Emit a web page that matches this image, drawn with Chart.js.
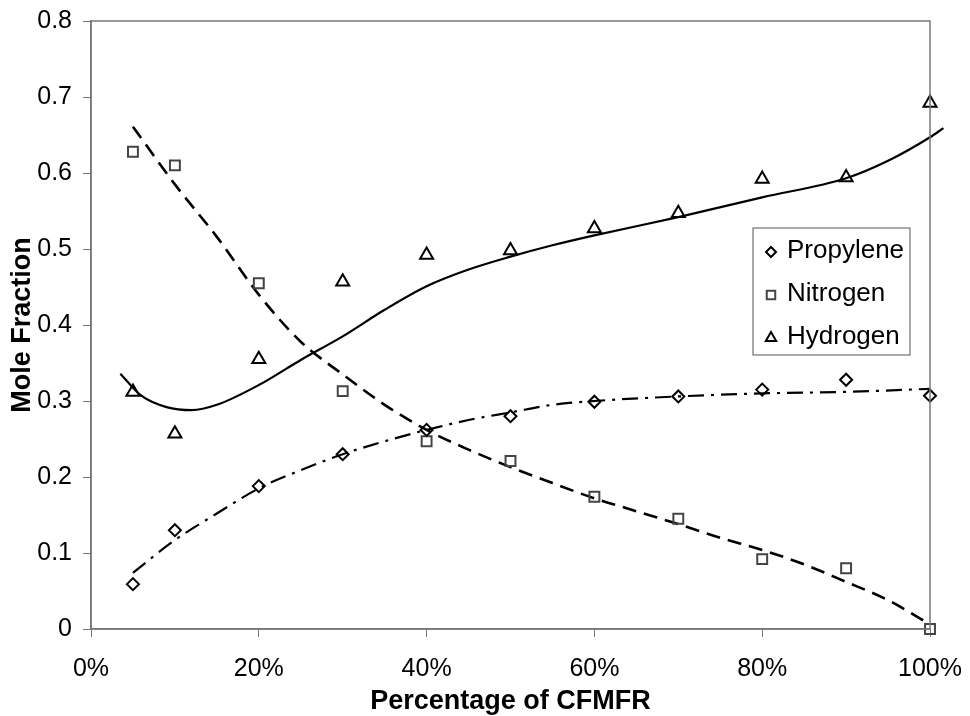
<!DOCTYPE html>
<html lang="en">
<head>
    <meta charset="UTF-8">
    <title>Mole Fraction vs Percentage of CFMFR</title>
    <script src="https://cdn.jsdelivr.net/npm/chart.js"></script>
    <style>
        body { margin: 0; background: #fff; }
        #wrap { width: 970px; height: 716px; }
    </style>
</head>
<body>
    <div id="wrap">
        <canvas id="moleChart" width="970" height="716"></canvas>
    </div>
    <script>
        // measured points (fraction of CFMFR)
        const cfmfr = [0.05, 0.1, 0.2, 0.3, 0.4, 0.5, 0.6, 0.7, 0.8, 0.9, 1.0];
        const propylene = [0.059, 0.130, 0.188, 0.230, 0.262, 0.280, 0.299, 0.306, 0.315, 0.328, 0.307];
        const nitrogen = [0.628, 0.610, 0.455, 0.313, 0.247, 0.221, 0.174, 0.145, 0.092, 0.080, 0.0];
        const hydrogen = [0.312, 0.257, 0.355, 0.457, 0.492, 0.498, 0.527, 0.547, 0.592, 0.594, 0.692];

        // trend curves
        const propyleneFitX = [0.05, 0.1, 0.15, 0.2, 0.25, 0.3, 0.35, 0.4, 0.45, 0.5, 0.55, 0.6, 0.7, 0.8, 0.9, 1.0];
        const propyleneFit = [0.074, 0.117, 0.152, 0.185, 0.209, 0.230, 0.247, 0.262, 0.275, 0.285, 0.295, 0.300, 0.306, 0.310, 0.312, 0.316];
        const nitrogenFitX = [0.05, 0.1, 0.15, 0.2, 0.25, 0.3, 0.35, 0.4, 0.45, 0.5, 0.55, 0.6, 0.65, 0.7, 0.75, 0.8, 0.85, 0.9, 0.95, 1.0];
        const nitrogenFit = [0.661, 0.585, 0.516, 0.440, 0.378, 0.335, 0.295, 0.262, 0.236, 0.213, 0.192, 0.172, 0.155, 0.138, 0.120, 0.104, 0.085, 0.062, 0.038, 0.006];
        const hydrogenFitX = [0.035, 0.06, 0.09, 0.12, 0.15, 0.2, 0.25, 0.3, 0.35, 0.4, 0.45, 0.5, 0.55, 0.6, 0.7, 0.8, 0.9, 0.95, 1.0, 1.016];
        const hydrogenFit = [0.336, 0.307, 0.292, 0.288, 0.295, 0.321, 0.354, 0.385, 0.420, 0.451, 0.473, 0.490, 0.505, 0.518, 0.542, 0.568, 0.593, 0.616, 0.647, 0.659];

        const yTicks = [0, 0.1, 0.2, 0.3, 0.4, 0.5, 0.6, 0.7, 0.8];
        const xTicks = [0, 0.2, 0.4, 0.6, 0.8, 1.0];

        const legendItems = [
            { label: "Propylene", style: "rectRot", radius: 5, color: "#000" },
            { label: "Nitrogen", style: "rect", radius: 6, color: "#444" },
            { label: "Hydrogen", style: "triangle", radius: 6, color: "#000" }
        ];

        const toXY = (xs, ys) => xs.map((x, i) => ({ x: x, y: ys[i] }));

        const font = "'Liberation Sans', Arial, sans-serif";

        // plot frame + legend box inside the plot area
        const framePlugin = {
            id: "frame",
            afterDraw(chart) {
                const ctx = chart.ctx;
                const a = chart.chartArea;
                ctx.save();
                ctx.strokeStyle = "#777";
                ctx.lineWidth = 1.5;
                ctx.strokeRect(a.left, a.top, a.right - a.left, a.bottom - a.top);

                const bx = 753, by = 228, bw = 157, bh = 127;
                ctx.fillStyle = "#fff";
                ctx.fillRect(bx, by, bw, bh);
                ctx.strokeStyle = "#555";
                ctx.lineWidth = 1;
                ctx.strokeRect(bx, by, bw, bh);

                ctx.font = "26px " + font;
                ctx.textBaseline = "middle";
                legendItems.forEach((it, i) => {
                    const cy = by + 23 + i * 43;
                    ctx.strokeStyle = it.color;
                    ctx.fillStyle = "#fff";
                    ctx.lineWidth = 2;
                    Chart.helpers.drawPoint(ctx, { pointStyle: it.style, radius: it.radius, borderWidth: 2 }, 771, cy + 1);
                    ctx.fillStyle = "#000";
                    ctx.fillText(it.label, 787, cy);
                });
                ctx.restore();
            }
        };

        const ctx = document.getElementById("moleChart").getContext("2d");
        new Chart(ctx, {
            type: "scatter",
            data: {
                datasets: [
                    {
                        label: "Propylene",
                        data: toXY(cfmfr, propylene),
                        pointStyle: "rectRot",
                        pointRadius: 6,
                        borderColor: "#000",
                        backgroundColor: "rgba(0,0,0,0)",
                        borderWidth: 2,
                        clip: false
                    },
                    {
                        label: "Nitrogen",
                        data: toXY(cfmfr, nitrogen),
                        pointStyle: "rect",
                        pointRadius: 7,
                        borderColor: "#444",
                        backgroundColor: "rgba(0,0,0,0)",
                        borderWidth: 2,
                        clip: false
                    },
                    {
                        label: "Hydrogen",
                        data: toXY(cfmfr, hydrogen),
                        pointStyle: "triangle",
                        pointRadius: 7.5,
                        borderColor: "#000",
                        backgroundColor: "rgba(0,0,0,0)",
                        borderWidth: 2,
                        clip: false
                    },
                    {
                        label: "Propylene trend",
                        type: "line",
                        data: toXY(propyleneFitX, propyleneFit),
                        showLine: true,
                        pointRadius: 0,
                        borderColor: "#000",
                        borderWidth: 2.2,
                        borderDash: [16, 7, 3, 7],
                        cubicInterpolationMode: "monotone",
                        fill: false,
                        clip: false
                    },
                    {
                        label: "Nitrogen trend",
                        type: "line",
                        data: toXY(nitrogenFitX, nitrogenFit),
                        showLine: true,
                        pointRadius: 0,
                        borderColor: "#000",
                        borderWidth: 2.6,
                        borderDash: [14, 8],
                        cubicInterpolationMode: "monotone",
                        fill: false,
                        clip: false
                    },
                    {
                        label: "Hydrogen trend",
                        type: "line",
                        data: toXY(hydrogenFitX, hydrogenFit),
                        showLine: true,
                        pointRadius: 0,
                        borderColor: "#000",
                        borderWidth: 2.2,
                        cubicInterpolationMode: "monotone",
                        fill: false,
                        clip: false
                    }
                ]
            },
            options: {
                responsive: false,
                animation: false,
                layout: { padding: { left: 6, right: 40, top: 21, bottom: 0 } },
                plugins: {
                    legend: { display: false },
                    tooltip: { enabled: false }
                },
                scales: {
                    x: {
                        type: "linear",
                        bounds: "data",
                        // range fixed here (not via min/max) so the hydrogen trend can run past 100%
                        afterDataLimits: (s) => { s.min = 0; s.max = 1; },
                        afterBuildTicks: (s) => { s.ticks = xTicks.map(v => ({ value: v })); },
                        afterFit: (s) => {
                            s.height = 87;
                            s.paddingLeft = 0;
                            s.paddingRight = 0;
                        },
                        ticks: {
                            color: "#000",
                            font: { family: font, size: 25 },
                            padding: 17,
                            callback: (v) => Math.round(v * 100) + "%"
                        },
                        grid: { drawOnChartArea: false, drawTicks: true, tickLength: 8, color: "#777" },
                        border: { display: true, color: "#777", width: 1.5 },
                        title: {
                            display: true,
                            text: "Percentage of CFMFR",
                            color: "#000",
                            font: { family: font, size: 27, weight: "bold" },
                            padding: { top: 0, bottom: -2 }
                        }
                    },
                    y: {
                        min: 0,
                        max: 0.8,
                        afterBuildTicks: (s) => { s.ticks = yTicks.map(v => ({ value: v })); },
                        afterFit: (s) => {
                            s.width = 85;
                            s.paddingTop = 0;
                            s.paddingBottom = 0;
                        },
                        ticks: {
                            color: "#000",
                            font: { family: font, size: 25 },
                            padding: 11,
                            callback: (v) => v === 0 ? "0" : v.toFixed(1)
                        },
                        grid: { drawOnChartArea: false, drawTicks: true, tickLength: 8, color: "#777" },
                        border: { display: true, color: "#777", width: 1.5 },
                        title: {
                            display: true,
                            text: "Mole Fraction",
                            color: "#000",
                            font: { family: font, size: 27, weight: "bold" },
                            padding: { top: 0, bottom: 0 }
                        }
                    }
                }
            },
            plugins: [framePlugin]
        });
    </script>
</body>
</html>
